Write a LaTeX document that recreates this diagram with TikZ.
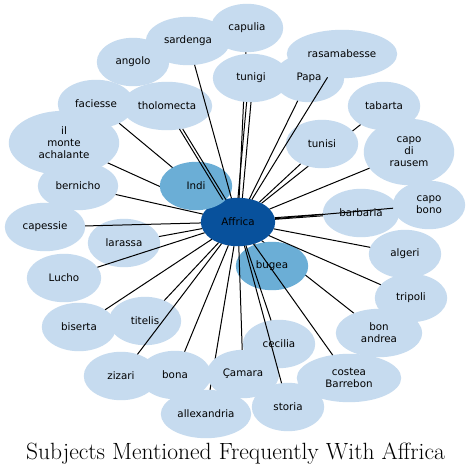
\documentclass[tikz,border=0pt]{standalone}
\usepackage{fontspec}
\newfontfamily\nodefont{DejaVu Sans}
\usetikzlibrary{shapes.geometric,calc}
\pgfdeclarelayer{background}
\pgfdeclarelayer{fills}
\pgfsetlayers{background,fills,main}
\definecolor{lightb}{HTML}{C6DBEF}
\definecolor{midb}{HTML}{6BAED6}
\definecolor{darkb}{HTML}{08519C}
\tikzset{
  nd/.style={ellipse, draw=none, inner sep=0pt, align=center,
    font=\nodefont\fontsize{10.3}{12}\selectfont, minimum width=72pt, minimum height=48pt},
  edge/.style={draw=black, line width=1pt},
}
\begin{document}
\begin{tikzpicture}[x=1pt,y=-1pt]
\useasboundingbox (0,0) rectangle (471,476);
% nodes (text; their fills are drawn on a lower layer below)
\node[nd, minimum width=74pt] (Affrica) at (238,222) {Affrica};
\node[nd] (capulia) at (247,28) {capulia};
\node[nd, minimum width=84pt] (sardenga) at (188,41) {sardenga};
\node[nd] (angolo) at (133,62) {angolo};
\node[nd, minimum width=110pt] (rasamabesse) at (342,54) {rasamabesse};
\node[nd, minimum width=76pt] (tunigi) at (251,78) {tunigi};
\node[nd, minimum width=70pt] (Papa) at (309,78) {Papa};
\node[nd] (tabarta) at (384,106) {tabarta};
\node[nd, minimum width=76pt] (faciesse) at (96,104) {faciesse};
\node[nd, minimum width=90pt] (tholomecta) at (167,106) {tholomecta};
\node[nd, minimum width=110pt, minimum height=64pt] (monte) at (64,143) {il\\monte\\achalante};
\node[nd] (tunisi) at (322,144) {tunisi};
\node[nd, minimum width=90pt, minimum height=66pt] (rausem) at (409,152) {capo\\di\\rausem};
\node[nd, minimum width=80pt] (bernicho) at (78,186) {bernicho};
\node[nd] (Indi) at (196,186) {Indi};
\node[nd, minimum width=76pt] (barbaria) at (361,213) {barbaria};
\node[nd] (capobono) at (429,205) {capo\\bono};
\node[nd, minimum width=80pt] (capessie) at (45,227) {capessie};
\node[nd] (larassa) at (124,243) {larassa};
\node[nd] (algeri) at (405,254) {algeri};
\node[nd] (bugea) at (272,266) {bugea};
\node[nd, minimum width=74pt] (Lucho) at (64,278) {Lucho};
\node[nd] (tripoli) at (411,298) {tripoli};
\node[nd, minimum width=74pt] (biserta) at (79,327) {biserta};
\node[nd] (titelis) at (145,321) {titelis};
\node[nd, minimum width=86pt] (bonandrea) at (379,333) {bon\\andrea};
\node[nd] (cecilia) at (279,344) {cecilia};
\node[nd, minimum width=104pt] (costea) at (349,378) {costea\\Barrebon};
\node[nd, minimum width=74pt] (zizari) at (121,376) {zizari};
\node[nd] (bona) at (175,375) {bona};
\node[nd] (Camara) at (243,374) {Çamara};
\node[nd, minimum width=90pt] (allexandria) at (206,414) {allexandria};
\node[nd] (storia) at (288,407) {storia};
% node fills
\begin{pgfonlayer}{fills}
\foreach \nm/\c in {capulia/lightb,sardenga/lightb,angolo/lightb,Papa/lightb,rasamabesse/lightb,tunigi/lightb,
  tabarta/lightb,faciesse/lightb,tholomecta/lightb,monte/lightb,tunisi/lightb,rausem/lightb,bernicho/lightb,
  barbaria/lightb,capobono/lightb,capessie/lightb,larassa/lightb,algeri/lightb,Lucho/lightb,tripoli/lightb,
  biserta/lightb,titelis/lightb,bonandrea/lightb,cecilia/lightb,costea/lightb,zizari/lightb,bona/lightb,
  Camara/lightb,allexandria/lightb,storia/lightb,Affrica/darkb,Indi/midb,bugea/midb}
  \fill[\c] let \p1=(\nm.center), \p2=(\nm.east), \p3=(\nm.north) in
    (\p1) ellipse [x radius={\x2-\x1}, y radius={\y3-\y1}];
\end{pgfonlayer}
% white page and edges hidden beneath nodes
\begin{pgfonlayer}{background}
\fill[white] (0,0) rectangle (471,476);
\foreach \t in {capulia,faciesse,monte,tunisi,tabarta,barbaria,bugea,bonandrea,allexandria,Indi}
  \draw[edge] (Affrica) -- (\t);
\end{pgfonlayer}
% edges drawn over nodes
\foreach \t in {sardenga,rasamabesse,Papa,rausem,capobono,algeri,tripoli,cecilia,costea,storia,Camara,bona,zizari,titelis,biserta,Lucho,larassa,capessie,bernicho}
  \draw[edge] (Affrica) -- (\t);
\draw[edge, transform canvas={xshift=-1.6pt}] (Affrica) -- (tholomecta);
\draw[edge, transform canvas={xshift=1.6pt}] (Affrica) -- (tholomecta);
\draw[edge, transform canvas={xshift=-2.2pt}] (Affrica) -- (tunigi);
\draw[edge, transform canvas={xshift=2.2pt}] (Affrica) -- (tunigi);
\draw[edge, transform canvas={yshift=1.6pt}] (Affrica) -- (barbaria);
\node (title) at (235.5,454) {\fontsize{23.5}{28}\selectfont Subjects Mentioned Frequently With Affrica};
\end{tikzpicture}
\end{document}
